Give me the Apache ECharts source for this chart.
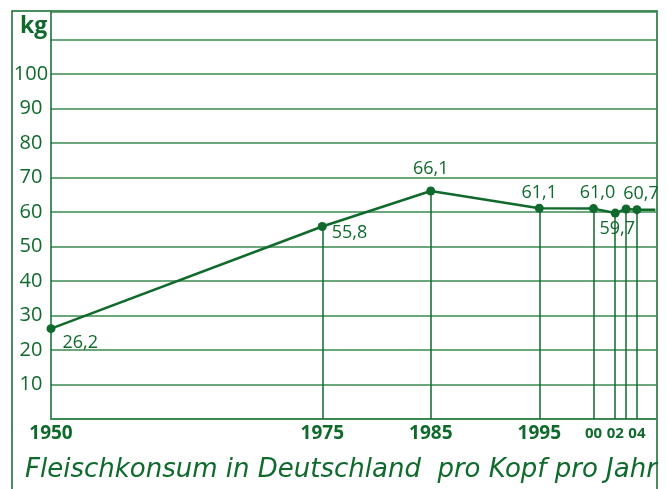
<!DOCTYPE html>
<html>
<head>
<meta charset="utf-8">
<script src="https://cdn.jsdelivr.net/npm/echarts@6/dist/echarts.min.js"></script>
<style>
  html, body { margin: 0; padding: 0; background: #ffffff; }
  #main { width: 667px; height: 489px; }
</style>
</head>
<body>
<div id="main"></div>
<script>
// Fleischkonsum in Deutschland, kg pro Kopf und Jahr
const years = [1950, 1975, 1985, 1995, 2000, 2002, 2003, 2004];
const kg = [26.2, 55.8, 66.1, 61.1, 61.0, 59.7, 60.9, 60.7];
const pointLabels = ['26,2', '55,8', '66,1', '61,1', '61,0', '59,7', '', '60,7'];
const tickYears = [1950, 1975, 1985, 1995, 2000, 2002, 2004];
const tailYear = 2005.7; // line runs on to the frame

const green = '#0f6a2c';
const lineGreen = '#3b8a4f';
const font = 'Open Sans';

const chartDom = document.getElementById('main');
const myChart = echarts.init(chartDom);

// label placement for each point (above / below / right-below)
const labelPos = {
  0: { position: 'right', offset: [2, 14] },
  1: { position: 'right', offset: [0, 6] },
  2: { position: 'top', distance: 9 },
  3: { position: 'top', distance: 2 },
  4: { position: 'top', distance: 2, offset: [4, 0] },
  5: { position: 'bottom', distance: 2, offset: [2, 0] },
  7: { position: 'top', distance: 2, offset: [4, 0] }
};

const pointData = years.map((y, i) => ({
  value: [y, kg[i]],
  label: Object.assign({ show: pointLabels[i] !== '', formatter: pointLabels[i] }, labelPos[i] || {})
}));
pointData.push({ value: [tailYear, kg[kg.length - 1]], symbol: 'none', label: { show: false } });

// drop lines from each point down to the year axis
const dropLines = years.slice(1).map((y, i) => [
  { coord: [y, 0] },
  { coord: [y, kg[i + 1]] }
]);

const option = {
  backgroundColor: '#ffffff',
  animation: false,
  title: [
    {
      text: 'kg',
      left: 15,
      top: 10,
      textStyle: { fontFamily: font, fontSize: 23, fontWeight: 'bold', color: green }
    },
    {
      text: 'Fleischkonsum in Deutschland  pro Kopf pro Jahr',
      left: 20,
      top: 452,
      textStyle: { fontFamily: 'DejaVu Sans', fontSize: 26, fontWeight: 'normal', fontStyle: 'italic', color: green }
    }
  ],
  grid: { left: 51, right: 10, top: 12, bottom: 70 },
  xAxis: {
    type: 'value',
    min: 1950,
    max: 2005.85,
    axisLine: { show: true, lineStyle: { color: lineGreen, width: 2 } },
    axisTick: { show: false },
    splitLine: { show: false },
    axisLabel: {
      customValues: tickYears,
      margin: 5,
      fontFamily: font,
      fontSize: 19,
      fontWeight: 'bold',
      color: green,
      formatter: v => (v >= 2000 ? '{s|' + String(v).slice(2) + '}' : String(v)),
      rich: {
        s: { fontFamily: font, fontSize: 15, fontWeight: 'bold', color: green, padding: [2, 0, 0, 0] }
      }
    }
  },
  yAxis: {
    type: 'value',
    min: 0,
    max: 118,
    interval: 10,
    axisLine: { show: true, lineStyle: { color: green, width: 1.5 } },
    axisTick: { show: false },
    splitLine: { show: true, lineStyle: { color: lineGreen, width: 1.5 } },
    axisLabel: {
      margin: 20,
      align: 'center',
      fontFamily: font,
      fontSize: 20,
      color: green,
      formatter: v => (v > 0 && v <= 100 ? String(v) : '')
    }
  },
  graphic: [
    {
      type: 'polyline',
      shape: { points: [[12, 489], [12, 11], [657, 11], [657, 489]] },
      style: { stroke: green, lineWidth: 1.5, fill: null }
    }
  ],
  series: [
    {
      type: 'line',
      data: pointData,
      symbol: 'circle',
      symbolSize: 9,
      lineStyle: { color: green, width: 2.5 },
      itemStyle: { color: green },
      label: {
        color: green,
        fontFamily: font,
        fontSize: 18
      },
      markLine: {
        silent: true,
        symbol: 'none',
        label: { show: false },
        lineStyle: { color: green, width: 1.5, type: 'solid' },
        data: dropLines
      }
    }
  ]
};

option && myChart.setOption(option);
</script>
</body>
</html>
